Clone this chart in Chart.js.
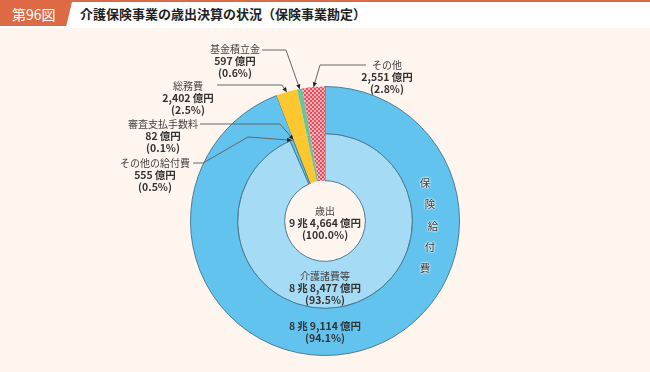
<!DOCTYPE html>
<html lang="ja">
<head>
<meta charset="utf-8">
<script src="https://cdn.jsdelivr.net/npm/chart.js@4.4.0/dist/chart.umd.min.js"></script>
<style>
  body { margin: 0; width: 650px; height: 372px; background: #fdf5ee; font-family: "Noto Sans CJK JP", sans-serif; position: relative; overflow: hidden; color: #333; }
  #head { position: absolute; left: 0; top: 0; width: 650px; height: 28px; background: #fff; border-top: 2px solid #dd6a45; box-sizing: border-box; z-index: 2; }
  #tag { position: absolute; left: 0; top: 0; width: 72px; height: 24px; background: #dd6a45; clip-path: polygon(0 0, 100% 0, 92% 100%, 0 100%); color: #fff; font-size: 14px; line-height: 24px; padding-left: 12px; box-sizing: border-box; }
  #title { position: absolute; left: 80px; top: -1px; line-height: 26px; font-size: 13px; font-weight: bold; color: #222; }
  canvas { position: absolute; left: 0; top: 0; }
  .lbl { position: absolute; text-align: center; font-size: 10px; line-height: 11.8px; white-space: nowrap; transform: translateX(-50%); z-index: 3; color: #444; }
  .lbl b { font-weight: bold; font-size: 10.5px; color: #333; }
  .v { position: absolute; font-size: 10.5px; color: #333; transform: translate(-50%, -50%); z-index: 3;
       text-shadow: 0 0 2px #fff, 0 0 2px #fff, 0 0 2px #fff; }
</style>
</head>
<body>
<div id="head"><div id="tag">第96図</div><div id="title">介護保険事業の歳出決算の状況（保険事業勘定）</div></div>
<canvas id="pie" width="650" height="372"></canvas>
<div id="labels"></div>
<script>
// 億円
const outerLabels = ["保険給付費", "総務費", "基金積立金", "その他"];
const outerValues = [89114, 2402, 597, 2551];
const outerPct = [94.1, 2.5, 0.6, 2.8];
const innerLabels = ["介護諸費等", "その他の給付費", "審査支払手数料", "総務費", "基金積立金", "その他"];
const innerValues = [88477, 555, 82, 2402, 597, 2551];
const innerPct = [93.5, 0.5, 0.1, 2.5, 0.6, 2.8];
const totalLabel = "歳出";
const totalPct = 100.0;

const total = outerValues.reduce((a, b) => a + b, 0);

const thin = "\u2009";
const fmtYen = v => {
    const cho = Math.floor(v / 10000);
    const oku = (v % 10000).toLocaleString("en-US");
    return (cho > 0 ? cho + thin + "兆" + thin : "") + oku + thin + "億円";
};
const fmtPct = p => "(" + p.toFixed(1) + "%)";

const canvas = document.getElementById("pie");
const ctx = canvas.getContext("2d");

const checker = () => {
    const c = document.createElement("canvas");
    c.width = 4; c.height = 4;
    const g = c.getContext("2d");
    g.fillStyle = "#e8505e";
    g.fillRect(0, 0, 4, 4);
    g.fillStyle = "#f6b0b8";
    g.fillRect(0, 0, 2, 2);
    g.fillRect(2, 2, 2, 2);
    return ctx.createPattern(c, "repeat");
};
const redPattern = checker();

const blue = "#62c4ee";
const lightBlue = "#a6dbf5";
const yellow = "#fdc82f";
const green = "#6cc49a";
const edge = "#4d7c94";

// label anchor -> elbow points, end is taken from the arc
const leaders = [
    { ds: 1, idx: 1, path: [[193, 163], [203, 163], [248, 137]] },
    { ds: 1, idx: 2, path: [[200, 124], [280, 124]] },
    { ds: 0, idx: 1, path: [[217, 85], [282, 85]] },
    { ds: 0, idx: 2, path: [[262, 50], [286, 50]] },
    { ds: 0, idx: 3, path: [[366, 65], [320, 65]] }
];

const leaderPlugin = {
    id: "leaders",
    afterDatasetsDraw(chart) {
        const c = chart.ctx;
        c.save();
        c.strokeStyle = "#666";
        c.fillStyle = "#222";
        c.lineWidth = 1;
        leaders.forEach(l => {
            const arc = chart.getDatasetMeta(l.ds).data[l.idx];
            const a = (arc.startAngle + arc.endAngle) / 2;
            const ex = arc.x + Math.cos(a) * arc.outerRadius;
            const ey = arc.y + Math.sin(a) * arc.outerRadius;
            c.beginPath();
            c.moveTo(l.path[0][0], l.path[0][1]);
            l.path.slice(1).forEach(p => c.lineTo(p[0], p[1]));
            c.lineTo(ex, ey);
            c.stroke();
            const last = l.path[l.path.length - 1];
            const ang = Math.atan2(ey - last[1], ex - last[0]);
            c.beginPath();
            c.moveTo(ex, ey);
            c.lineTo(ex - 5 * Math.cos(ang - 0.45), ey - 5 * Math.sin(ang - 0.45));
            c.lineTo(ex - 5 * Math.cos(ang + 0.45), ey - 5 * Math.sin(ang + 0.45));
            c.closePath();
            c.fill();
        });
        c.restore();
    }
};

new Chart(canvas, {
    type: "doughnut",
    data: {
        labels: innerLabels,
        datasets: [{
            data: outerValues,
            backgroundColor: [blue, yellow, green, redPattern],
            borderColor: [edge, yellow, green, "#e8505e"],
            borderWidth: [1, 0, 0, 0]
        }, {
            data: innerValues,
            backgroundColor: [lightBlue, blue, "#8fd0f0", yellow, green, redPattern],
            borderColor: [edge, edge, edge, yellow, green, "#e8505e"],
            borderWidth: [1, 1, 1, 0, 0, 0]
        }]
    },
    options: {
        responsive: false,
        animation: false,
        cutout: "30%",
        layout: { padding: { left: 190, right: 190, top: 85, bottom: 15 } },
        plugins: {
            legend: { display: false },
            tooltip: { enabled: false }
        }
    },
    plugins: [leaderPlugin]
});

// text labels
const box = document.getElementById("labels");
const addLabel = (x, top, name, value, pct) => {
    const d = document.createElement("div");
    d.className = "lbl";
    d.style.left = x + "px";
    d.style.top = top + "px";
    d.innerHTML = (name ? name + "<br>" : "") + "<b>" + fmtYen(value) + "</b><br><b>" + fmtPct(pct) + "</b>";
    box.appendChild(d);
};
addLabel(235, 43, outerLabels[2], outerValues[2], outerPct[2]);
addLabel(387, 59, outerLabels[3], outerValues[3], outerPct[3]);
addLabel(188, 80, outerLabels[1], outerValues[1], outerPct[1]);
addLabel(163, 118, innerLabels[2], innerValues[2], innerPct[2]);
addLabel(155, 157, innerLabels[1], innerValues[1], innerPct[1]);
addLabel(325, 205, totalLabel, total, totalPct);
addLabel(325, 270, innerLabels[0], innerValues[0], innerPct[0]);
addLabel(325, 320, "", outerValues[0], outerPct[0]);

// 保険給付費 written down the right side of the ring
const vPos = [[425, 182], [430, 203], [433, 225], [430, 246], [425, 267]];
Array.from(outerLabels[0]).forEach((ch, i) => {
    const s = document.createElement("div");
    s.className = "v";
    s.style.left = vPos[i][0] + "px";
    s.style.top = vPos[i][1] + "px";
    s.textContent = ch;
    box.appendChild(s);
});
</script>
</body>
</html>
